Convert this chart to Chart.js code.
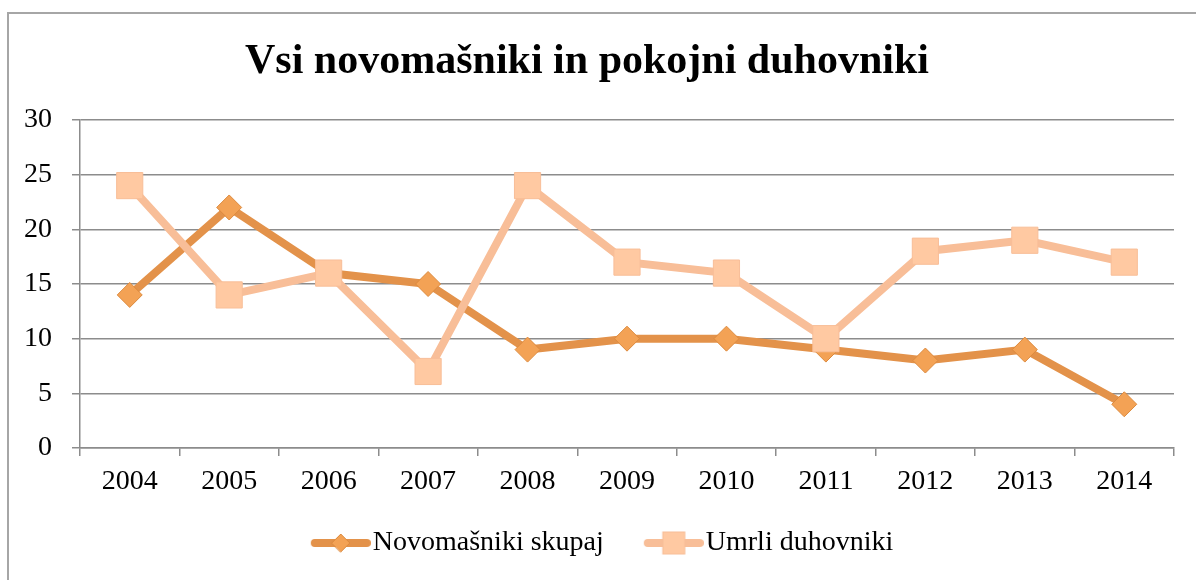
<!DOCTYPE html>
<html lang="sl">
<head>
<meta charset="UTF-8">
<title>Vsi novomašniki in pokojni duhovniki</title>
<script src="https://cdn.jsdelivr.net/npm/chart.js"></script>
<style>
    html, body { margin: 0; padding: 0; background: #fff; }
    .wrap { position: relative; width: 1196px; height: 580px; overflow: hidden; }
    .frame { position: absolute; left: 7px; top: 12px; width: 1300px; height: 700px; border-left: 2px solid #a6a6a6; border-top: 2px solid #a6a6a6; }
    canvas { position: absolute; left: 0; top: 0; }
</style>
</head>
<body>
<div class="wrap">
    <div class="frame"></div>
    <canvas id="chart" width="1196" height="580"></canvas>
</div>
<script>
// --- data ---
const years = ['2004', '2005', '2006', '2007', '2008', '2009', '2010', '2011', '2012', '2013', '2014'];
const novomasniki = [14, 22, 16, 15, 9, 10, 10, 9, 8, 9, 4];
const umrli = [24, 14, 16, 7, 24, 17, 16, 10, 18, 19, 17];

const darkLine = '#e3924a';
const darkFill = '#f3a255';
const lightLine = '#f8be98';
const lightFill = '#ffc9a2';
const serif = '"Liberation Serif", "DejaVu Serif", serif';

// legend box width; the swatch image is a bit wider so the line ends right before the text
const swatchBox = 78;

// legend swatch: line with marker in the middle, drawn onto a small canvas
function swatch(kind) {
    const c = document.createElement('canvas');
    c.width = swatchBox + 24; c.height = 30;
    const g = c.getContext('2d');
    const x1 = c.width, x0 = x1 - 60, cx = (x0 + x1) / 2, cy = 15;
    g.lineCap = 'round';
    g.lineWidth = 8;
    g.strokeStyle = kind === 'diamond' ? darkLine : lightLine;
    g.beginPath(); g.moveTo(x0 + 4, cy); g.lineTo(x1 - 4, cy); g.stroke();
    g.lineWidth = 1;
    if (kind === 'diamond') {
        g.fillStyle = darkFill; g.strokeStyle = '#dc8a3e';
        g.beginPath(); g.moveTo(cx - 9, cy); g.lineTo(cx, cy - 9); g.lineTo(cx + 9, cy); g.lineTo(cx, cy + 9); g.closePath();
        g.fill(); g.stroke();
    } else {
        g.fillStyle = lightFill; g.strokeStyle = lightLine;
        g.fillRect(cx - 11, cy - 11, 22, 22); g.strokeRect(cx - 11, cy - 11, 22, 22);
    }
    return c;
}

new Chart(document.getElementById('chart'), {
    type: 'line',
    data: {
        labels: years,
        datasets: [{
            label: 'Novomašniki skupaj',
            data: novomasniki,
            borderColor: darkLine,
            backgroundColor: darkFill,
            borderWidth: 8,
            tension: 0,
            pointStyle: 'rectRot',
            pointRadius: 12.5,
            pointHoverRadius: 12.5,
            pointBackgroundColor: darkFill,
            pointBorderColor: '#dc8a3e',
            pointBorderWidth: 1,
            order: 1
        }, {
            label: 'Umrli duhovniki',
            data: umrli,
            borderColor: lightLine,
            backgroundColor: lightFill,
            borderWidth: 8,
            tension: 0,
            pointStyle: 'rect',
            pointRadius: 18.5,
            pointHoverRadius: 18.5,
            pointBackgroundColor: lightFill,
            pointBorderColor: lightLine,
            pointBorderWidth: 1,
            order: 0
        }]
    },
    options: {
        responsive: false,
        animation: false,
        layout: { padding: { left: 0, right: 22, top: 37, bottom: 13 } },
        plugins: {
            title: {
                display: true,
                text: 'Vsi novomašniki in pokojni duhovniki',
                color: '#000',
                font: { family: serif, size: 42, weight: 'bold', lineHeight: 1.2 },
                padding: { top: 0, bottom: 32.6 }
            },
            legend: {
                position: 'bottom',
                labels: {
                    color: '#000',
                    font: { family: serif, size: 28 },
                    usePointStyle: true,
                    pointStyleWidth: swatchBox,
                    padding: 10,
                    generateLabels(chart) {
                        return chart.data.datasets.map((ds, i) => ({
                            text: ds.label,
                            datasetIndex: i,
                            pointStyle: swatch(i === 0 ? 'diamond' : 'square'),
                            fillStyle: ds.backgroundColor,
                            strokeStyle: ds.borderColor,
                            lineWidth: 0,
                            hidden: false,
                            fontColor: '#000'
                        }));
                    }
                }
            },
            tooltip: { enabled: false }
        },
        scales: {
            x: {
                offset: true,
                afterFit(scale) { scale.height = 71; },
                grid: { offset: true, drawOnChartArea: false, drawTicks: true, tickLength: 8, color: '#8c8c8c', lineWidth: 1.5 },
                border: { color: '#8c8c8c', width: 1.5 },
                ticks: { color: '#000', padding: 9, font: { family: serif, size: 28 }, maxRotation: 0 }
            },
            y: {
                min: 0,
                max: 30,
                afterFit(scale) { scale.width = 80; },
                grid: { color: '#8c8c8c', lineWidth: 1.5, tickLength: 8 },
                border: { color: '#8c8c8c', width: 1.5 },
                ticks: { stepSize: 5, color: '#000', padding: 20, font: { family: serif, size: 28 } }
            }
        }
    }
});
</script>
</body>
</html>
